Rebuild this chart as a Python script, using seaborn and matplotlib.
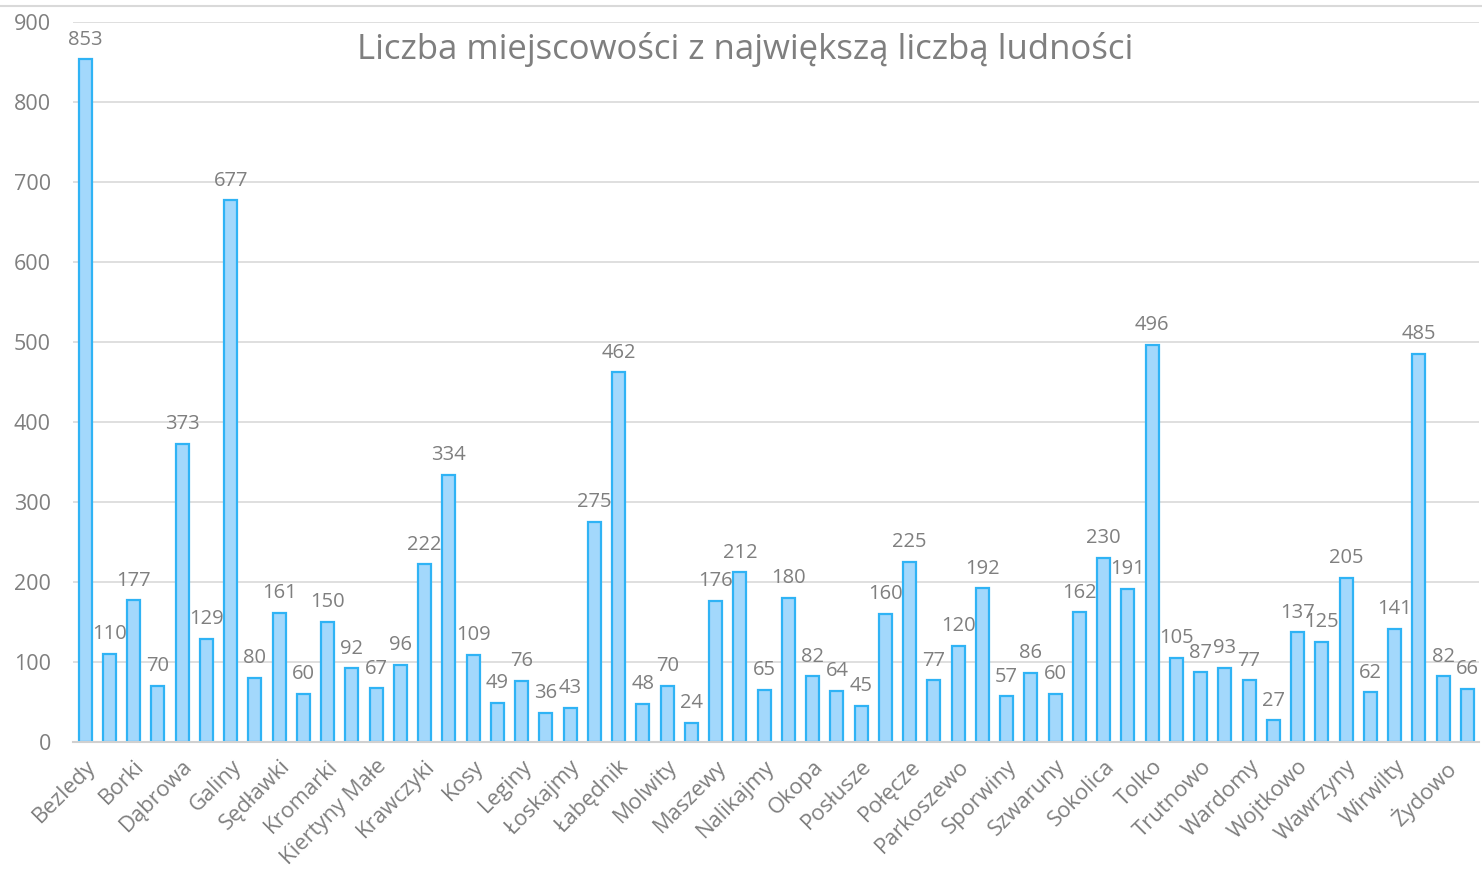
import pandas as pd
import matplotlib.pyplot as plt
import seaborn as sns

sns.set_style("white")
plt.rcParams['font.family'] = ['Open Sans', 'DejaVu Sans']

# Labelled villages (only every other bar carries a label in the original)
names = ['Bezledy', 'Borki', 'Dąbrowa', 'Galiny', 'Sędławki', 'Kromarki', 'Kiertyny Małe',
         'Krawczyki', 'Kosy', 'Leginy', 'Łoskajmy', 'Łabędnik', 'Molwity', 'Maszewy',
         'Nalikajmy', 'Okopa', 'Posłusze', 'Połęcze', 'Parkoszewo', 'Sporwiny', 'Szwaruny',
         'Sokolica', 'Tolko', 'Trutnowo', 'Wardomy', 'Wojtkowo', 'Wawrzyny', 'Wirwilty', 'Żydowo']

values = [853, 110, 177, 70, 373, 129, 677, 80, 161, 60, 150, 92, 67, 96, 222, 334,
          109, 49, 76, 36, 43, 275, 462, 48, 70, 24, 176, 212, 65, 180, 82, 64, 45,
          160, 225, 77, 120, 192, 57, 86, 60, 162, 230, 191, 496, 105, 87, 93, 77,
          27, 137, 125, 205, 62, 141, 485, 82, 66]

df = pd.DataFrame({'pos': range(len(values)), 'value': values})

fig = plt.figure(figsize=(14.82, 8.75), dpi=100)
ax = fig.add_axes([0.0493, 0.152, 0.949, 0.823])

sns.barplot(data=df, x='pos', y='value', color='#a3d8fc', width=0.54,
            edgecolor='#2fb3f5', linewidth=1.6, saturation=1, ax=ax)

grey = '#7f7f7f'
for i, v in enumerate(values):
    ax.annotate(str(v), (i, v), xytext=(0, 7), textcoords='offset points',
                ha='center', va='bottom', fontsize=14.5, color=grey)

ax.set_ylim(0, 900)
ax.set_xlim(-0.5, len(values) - 0.5)
ax.set_yticks(range(0, 901, 100))
ax.yaxis.grid(True, color='#d9d9d9', linewidth=1.2)
ax.set_axisbelow(True)
ax.set_xticks(range(0, len(values), 2))
ax.set_xticklabels(names, rotation=45, ha='right', rotation_mode='anchor')
ax.tick_params(axis='both', length=0, labelsize=15.5, colors=grey)
ax.tick_params(axis='x', pad=10, labelsize=15.8)
ax.tick_params(axis='y', pad=16)
ax.set_xlabel('')
ax.set_ylabel('')
for s in ['top', 'right', 'left']:
    ax.spines[s].set_visible(False)
ax.spines['bottom'].set_color('#d0d0d0')
ax.spines['bottom'].set_linewidth(1.5)

fig.text(0.503, 0.943, 'Liczba miejscowości z największą liczbą ludności',
         ha='center', va='center', fontsize=25, color=grey)
fig.add_artist(plt.Line2D([0, 1], [0.993, 0.993], color='#d9d9d9', linewidth=1.5))

fig.savefig('out.png', dpi=100)
